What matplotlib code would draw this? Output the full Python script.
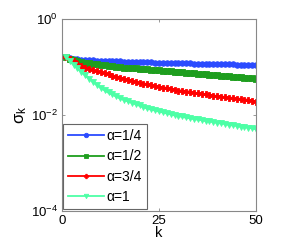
import numpy as np
import matplotlib
matplotlib.use("Agg")
import matplotlib.pyplot as plt

plt.rcParams['font.family'] = ['Liberation Sans', 'DejaVu Sans']
plt.rcParams['mathtext.fontset'] = 'custom'
plt.rcParams['mathtext.rm'] = 'Liberation Sans'
plt.rcParams['mathtext.it'] = 'Liberation Sans'
plt.rcParams['mathtext.default'] = 'regular'

k = list(range(1, 51))

# log10(sigma_k)
log_sigma_a14 = [-0.79, -0.81, -0.83, -0.84, -0.85, -0.85, -0.86, -0.86, -0.87, -0.87,
                 -0.87, -0.88, -0.88, -0.88, -0.88, -0.89, -0.89, -0.89, -0.89, -0.90,
                 -0.90, -0.90, -0.90, -0.91, -0.91, -0.91, -0.91, -0.91, -0.92, -0.92,
                 -0.92, -0.92, -0.92, -0.93, -0.93, -0.93, -0.93, -0.93, -0.93, -0.94,
                 -0.94, -0.94, -0.94, -0.94, -0.95, -0.95, -0.95, -0.95, -0.95, -0.95]
log_sigma_a12 = [-0.79, -0.83, -0.86, -0.88, -0.90, -0.91, -0.92, -0.93, -0.94, -0.95,
                 -0.96, -0.97, -0.98, -0.99, -1.00, -1.01, -1.02, -1.02, -1.03, -1.04,
                 -1.05, -1.05, -1.06, -1.07, -1.07, -1.08, -1.09, -1.09, -1.10, -1.11,
                 -1.11, -1.12, -1.13, -1.13, -1.14, -1.15, -1.15, -1.16, -1.17, -1.17,
                 -1.18, -1.19, -1.19, -1.20, -1.21, -1.21, -1.22, -1.23, -1.23, -1.24]
log_sigma_a34 = [-0.80, -0.84, -0.88, -0.93, -0.97, -1.01, -1.04, -1.07, -1.09, -1.11,
                 -1.13, -1.15, -1.18, -1.20, -1.22, -1.25, -1.27, -1.29, -1.31, -1.33,
                 -1.35, -1.36, -1.38, -1.40, -1.41, -1.43, -1.44, -1.46, -1.47, -1.49,
                 -1.50, -1.51, -1.52, -1.54, -1.55, -1.56, -1.57, -1.58, -1.60, -1.61,
                 -1.62, -1.63, -1.64, -1.65, -1.66, -1.67, -1.68, -1.69, -1.71, -1.72]
log_sigma_a1 = [-0.79, -0.87, -0.95, -1.02, -1.10, -1.17, -1.24, -1.31, -1.37, -1.43,
                -1.48, -1.53, -1.57, -1.61, -1.65, -1.68, -1.71, -1.74, -1.77, -1.80,
                -1.83, -1.86, -1.88, -1.90, -1.92, -1.94, -1.96, -1.98, -2.00, -2.02,
                -2.03, -2.05, -2.06, -2.08, -2.09, -2.10, -2.12, -2.13, -2.14, -2.16,
                -2.17, -2.18, -2.20, -2.21, -2.22, -2.24, -2.25, -2.26, -2.27, -2.29]

labels = ['α=1/4', 'α=1/2', 'α=3/4', 'α=1']
colors = ['#2b4bff', '#1e9e1e', '#ff0000', '#4dffa6']
markers = ['o', 's', 'P', 'v']
series = [log_sigma_a14, log_sigma_a12, log_sigma_a34, log_sigma_a1]

fig = plt.figure(figsize=(2.95, 2.44), dpi=100)
ax = fig.add_axes([0.210, 0.135, 0.658, 0.787])

for s, lab, c, m in zip(series, labels, colors, markers):
    ax.semilogy(k, 10 ** np.array(s), color=c, marker=m, markersize=4,
                linewidth=1.8, markeredgewidth=0.6, label=lab)

ax.set_xlim(0, 50)
ax.set_ylim(1e-4, 1)
ax.set_xticks([0, 25, 50])
ax.set_yticks([1e-4, 1e-2, 1])
ax.minorticks_off()
ax.tick_params(direction='in', length=2.5, width=0.6, top=True, right=True,
               labelsize=9.5, colors='#888888', labelcolor='black', pad=3)
for sp in ax.spines.values():
    sp.set_color('#888888')
    sp.set_linewidth(0.8)

ax.set_xlabel('k', fontsize=10.5, labelpad=-1)
ax.set_ylabel(r'$\sigma_\mathrm{k}$', fontsize=12, labelpad=1)

leg = ax.legend(loc='lower left', bbox_to_anchor=(0.005, 0.012), fontsize=10,
                handlelength=2.6, handletextpad=0.2, borderpad=0.35, labelspacing=0.45,
                borderaxespad=0.0, fancybox=False, framealpha=1, markerscale=0.8)
leg.get_frame().set_edgecolor('#666666')
leg.get_frame().set_linewidth(0.8)
for h in leg.get_lines():
    h.set_linewidth(1.3)

fig.savefig('out.png', dpi=100)
